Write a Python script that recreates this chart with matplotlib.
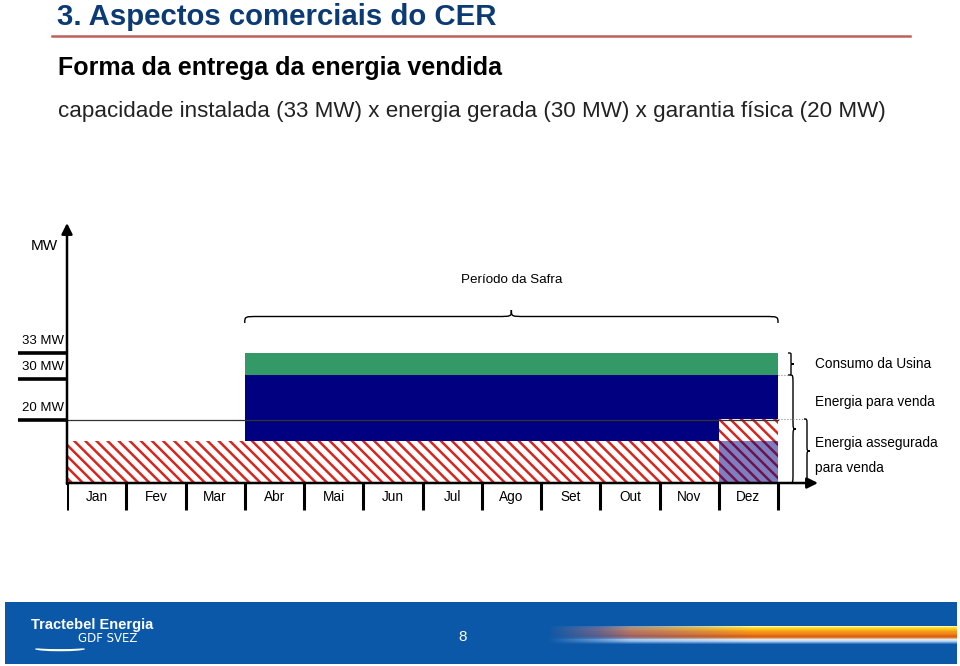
import matplotlib
matplotlib.use('Agg')
import matplotlib.pyplot as plt
import numpy as np
from matplotlib.path import Path
import matplotlib.patches as mpatches
from matplotlib.colors import to_rgb

plt.rcParams['font.family'] = ['Liberation Sans', 'DejaVu Sans']
plt.rcParams['hatch.linewidth'] = 1.8
plt.rcParams['hatch.color'] = '#d7261e'

# dados do esquema (alturas em unidades do desenho)
meses = ['Jan', 'Fev', 'Mar', 'Abr', 'Mai', 'Jun', 'Jul', 'Ago', 'Set', 'Out', 'Nov', 'Dez']
assegurada = [42, 42, 42, 42, 42, 42, 42, 42, 42, 42, 42, 64]
venda = [0, 0, 0, 108, 108, 108, 108, 108, 108, 108, 108, 108]
consumo = [0, 0, 0, 130, 130, 130, 130, 130, 130, 130, 130, 130]
sobreposicao = [0, 0, 0, 0, 0, 0, 0, 0, 0, 0, 0, 42]
niveis = [130, 104, 63]
niveis_rot = ['33 MW', '30 MW', '20 MW']
inicio_safra = 3

VERMELHO = '#d7261e'
AZUL = '#000080'
VERDE = '#339966'
PX = 59.25  # pixels por mes
FS = 9.8    # fonte do esquema

W, H = 960, 666
fig = plt.figure(figsize=(9.6, 6.66), dpi=100)

def fx(p):
    return p / W

def fy(p):
    return 1 - p / H

# cabecalho
fig.text(fx(57), fy(17), '3. Aspectos comerciais do CER', fontsize=21.2, fontweight='bold',
         color='#0b3a75', va='center')
fig.add_artist(plt.Line2D([fx(52), fx(910)], [fy(36), fy(36)], color='#c0605e', lw=1.8))
fig.text(fx(58), fy(68), 'Forma da entrega da energia vendida', fontsize=18,
         fontweight='bold', color='black', va='center')
fig.text(fx(58), fy(112), 'capacidade instalada (33 MW) x energia gerada (30 MW) x garantia física (20 MW)',
         fontsize=16.1, color='#222222', va='center')

# grafico esquematico
ax = fig.add_axes([fx(67), fy(520), (W - 67) / W, 300 / H])
ax.set_xlim(0, (W - 67) / PX)
ax.set_ylim(-37, 263)
ax.axis('off')

idx = np.arange(len(meses))
ass = np.array(assegurada)
ven = np.array(venda)
con = np.array(consumo)
sob = np.array(sobreposicao)

ax.bar(idx, ass, width=1, align='edge', color='white', edgecolor=VERMELHO,
       hatch='\\\\\\', linewidth=0, zorder=2)
ax.bar(idx, np.where(ven > 0, ven - ass, 0), bottom=ass, width=1, align='edge',
       color=AZUL, linewidth=0, zorder=2)
ax.bar(idx, con - ven, bottom=ven, width=1, align='edge', color=VERDE, linewidth=0, zorder=2)
ax.bar(idx, sob, width=1, align='edge', color=AZUL, alpha=0.5, linewidth=0, zorder=3)

# linha dos 20 MW
ax.plot([0, len(meses)], [niveis[2], niveis[2]], color='#333333', lw=0.9, zorder=4)

# eixos com setas
ax.annotate('', xy=(0, 260), xytext=(0, -1),
            arrowprops=dict(arrowstyle='-|>', lw=1.8, color='black', mutation_scale=16,
                            shrinkA=0, shrinkB=0), zorder=5)
ax.annotate('', xy=(len(meses) + 40 / PX, 0), xytext=(0, 0),
            arrowprops=dict(arrowstyle='-|>', lw=1.8, color='black', mutation_scale=16,
                            shrinkA=0, shrinkB=0), zorder=5)
ax.text(-9 / PX, 237, 'MW', ha='right', va='center', fontsize=11)

# niveis no eixo y
for nv, rot in zip(niveis, niveis_rot):
    ax.plot([-49 / PX, 0], [nv, nv], color='black', lw=2.6, solid_capstyle='butt', clip_on=False)
    ax.text(-3 / PX, nv + 12, rot, ha='right', va='center', fontsize=9.5)

# divisoes dos meses
for i in range(len(meses) + 1):
    ax.plot([i, i], [0, -27], color='black', lw=2.2, solid_capstyle='butt')
for i, m in enumerate(meses):
    ax.text(i + 0.5, -14, m, ha='center', va='center', fontsize=FS)


def chave(a, b, base, prof, vertical=False):
    # chave (brace) entre a e b (pixels ao longo), base e prof em pixels
    L = b - a
    s = min(L * 0.1, 14)
    h = prof / 2.0
    m = (a + b) / 2.0
    pts = [(a, 0), (a, h), (a, h), (a + s, h),
           (m - s, h), (m, h), (m, h), (m, prof),
           (m, h), (m, h), (m + s, h),
           (b - s, h), (b, h), (b, h), (b, 0)]
    cod = [Path.MOVETO, Path.CURVE4, Path.CURVE4, Path.CURVE4,
           Path.LINETO, Path.CURVE4, Path.CURVE4, Path.CURVE4,
           Path.CURVE4, Path.CURVE4, Path.CURVE4,
           Path.LINETO, Path.CURVE4, Path.CURVE4, Path.CURVE4]
    if vertical:
        v = [((base + p) / PX, u) for u, p in pts]
    else:
        v = [(u / PX, base + p) for u, p in pts]
    ax.add_patch(mpatches.PathPatch(Path(v, cod), fill=False, lw=1.0, edgecolor='black',
                                    clip_on=False))


n = len(meses)
chave(inicio_safra * PX, n * PX, 160, 13)
ax.text((inicio_safra + n) / 2, 203, 'Período da Safra', ha='center', va='center', fontsize=9.6)

# chaves da direita
x_fim = n * PX
chave(ven[-1], con[-1], x_fim + 10, 6, vertical=True)
chave(0, ven[-1], x_fim + 12, 6, vertical=True)
chave(0, ass[-1], x_fim + 26, 6, vertical=True)
ax.plot([n, n + 12 / PX], [ven[-1], ven[-1]], color='#888888', lw=0.8, ls=':')
ax.plot([n, n + 26 / PX], [ass[-1], ass[-1]], color='#888888', lw=0.8, ls=':')

xt = n + 37 / PX
ax.text(xt, (ven[-1] + con[-1]) / 2, 'Consumo da Usina', ha='left', va='center', fontsize=FS)
ax.text(xt, 81, 'Energia para venda', ha='left', va='center', fontsize=FS)
ax.text(xt, 40, 'Energia assegurada', ha='left', va='center', fontsize=FS)
ax.text(xt, 15, 'para venda', ha='left', va='center', fontsize=FS)

# rodape
fa = fig.add_axes([0, 0, 1, 66 / H])
fa.set_xlim(0, W)
fa.set_ylim(666, 600)
fa.axis('off')
AZUL_R = '#0b58a8'
fa.add_patch(mpatches.Rectangle((5, 602), 952, 62, color=AZUL_R, lw=0))

# faixa em degrade
gw, gh = 410, 18
t = np.linspace(0, 1, gw)
perfil_dir = ['#fff6b8', '#ffe23a', '#ffd21a', '#ffc21a', '#f9aa1c', '#f69a1c', '#f3901c',
              '#f08a1c', '#ec7a16', '#e26a12', '#d96012', '#e07a30', '#f0b070', '#d8ecff',
              '#c8e2fa', '#a8ccf0', '#6fa0d8', '#3a78c0']
perfil_esq = ['#6a7ab0', '#8a7a9a', '#a07888', '#a87480', '#a8707a', '#a46c78', '#a06a78',
              '#9c6878', '#966478', '#8c6078', '#886480', '#7c78a0', '#7890c0', '#a0c0e8',
              '#90b8e6', '#78a8e0', '#4a88cc', '#2a6cb8']
mix = np.clip((t - 0.12) / 0.38, 0, 1)
img = np.ones((gh, gw, 4))
for r in range(gh):
    ce = np.array(to_rgb(perfil_esq[r]))
    cd = np.array(to_rgb(perfil_dir[r]))
    img[r, :, :3] = ce[None, :] * (1 - mix[:, None]) + cd[None, :] * mix[:, None]
img[:, :, 3] = np.clip(t / 0.2, 0, 1)[None, :]
fa.imshow(img, extent=(547, 957, 644, 626), aspect='auto', interpolation='bilinear', zorder=3)

fa.text(92, 625, 'Tractebel Energia', color='white', fontsize=10.5, fontweight='bold',
        ha='center', va='center')
fa.text(108, 639, 'GDF SVEZ', color='white', fontsize=8.5, ha='center', va='center',
        family=['DejaVu Sans'])
fa.add_patch(mpatches.Ellipse((60, 649), 50, 4.5, color='white', lw=0))
fa.add_patch(mpatches.Ellipse((60, 647.5), 54, 3.2, color=AZUL_R, lw=0))
fa.text(463, 637, '8', color='white', fontsize=11, ha='center', va='center')

fig.savefig('out.png', dpi=100)
